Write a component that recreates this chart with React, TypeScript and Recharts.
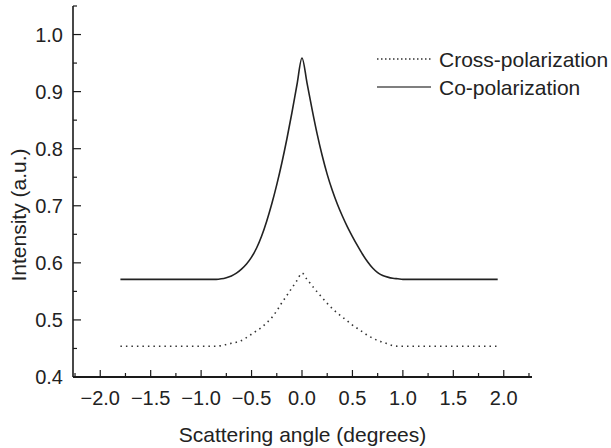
import React from 'react';
import { LineChart, Line, XAxis, YAxis, Legend, Label } from 'recharts';

const angles = [-1.8, -1.5, -1.2, -1.0, -0.9, -0.85, -0.8, -0.75, -0.7, -0.65, -0.6, -0.55, -0.5, -0.45, -0.4, -0.35, -0.3, -0.25, -0.2, -0.15, -0.1, -0.05, 0, 0.05, 0.1, 0.15, 0.2, 0.25, 0.3, 0.35, 0.4, 0.45, 0.5, 0.55, 0.6, 0.65, 0.7, 0.75, 0.8, 0.85, 0.9, 0.95, 1.0, 1.2, 1.5, 1.8, 1.94];
const coPolarization = [0.571, 0.571, 0.571, 0.571, 0.571, 0.571, 0.572, 0.574, 0.577, 0.582, 0.589, 0.598, 0.610, 0.626, 0.647, 0.673, 0.703, 0.737, 0.775, 0.817, 0.863, 0.912, 0.959, 0.915, 0.869, 0.826, 0.788, 0.755, 0.727, 0.703, 0.682, 0.663, 0.646, 0.630, 0.615, 0.602, 0.591, 0.583, 0.578, 0.575, 0.573, 0.572, 0.571, 0.571, 0.571, 0.571, 0.571];
const crossPolarization = [0.454, 0.454, 0.454, 0.454, 0.454, 0.454, 0.455, 0.457, 0.459, 0.461, 0.464, 0.469, 0.475, 0.481, 0.487, 0.495, 0.504, 0.516, 0.530, 0.543, 0.556, 0.569, 0.582, 0.571, 0.560, 0.549, 0.539, 0.529, 0.520, 0.512, 0.505, 0.498, 0.491, 0.485, 0.479, 0.473, 0.468, 0.464, 0.461, 0.458, 0.455, 0.454, 0.454, 0.454, 0.454, 0.454, 0.454];

const xMajorTicks = [-2, -1.5, -1, -0.5, 0, 0.5, 1, 1.5, 2];
const xMinorTicks = [-2.25, -1.75, -1.25, -0.75, -0.25, 0.25, 0.75, 1.25, 1.75, 2.25];
const yMajorTicks = [0.4, 0.5, 0.6, 0.7, 0.8, 0.9, 1.0];
const yMinorTicks = [0.45, 0.55, 0.65, 0.75, 0.85, 0.95, 1.05];

const seriesNames = ['Cross-polarization', 'Co-polarization'];
const xTitle = 'Scattering angle (degrees)';
const yTitle = 'Intensity (a.u.)';

const FONT = '"Liberation Sans", Arial, Helvetica, sans-serif';
const TEXT = '#222';
const INK = '#1a1a1a';

const data = angles.map((a, i) => ({ angle: a, co: coPolarization[i], cross: crossPolarization[i] }));

const fmt = (v: number) => (v < 0 ? '\u2212' + Math.abs(v).toFixed(1) : v.toFixed(1));
const isMajor = (list: number[], v: number) => list.some((t) => Math.abs(t - v) < 1e-6);

const XTick = (props: any) => {
  const { x, y, payload } = props;
  const major = isMajor(xMajorTicks, payload.value);
  return (
    <g>
      <line x1={x} y1={y} x2={x} y2={y - (major ? 7 : 4)} stroke={INK} strokeWidth={1.2} />
      {major && (
        <text x={x} y={y + 28} textAnchor="middle" fontSize={20} fontFamily={FONT} fill={TEXT}>
          {fmt(payload.value)}
        </text>
      )}
    </g>
  );
};

const YTick = (props: any) => {
  const { x, y, payload } = props;
  const major = isMajor(yMajorTicks, payload.value);
  return (
    <g>
      <line x1={x} y1={y} x2={x + (major ? 8 : 4)} y2={y} stroke={INK} strokeWidth={1.2} />
      {major && (
        <text x={x - 10} y={y + 7} textAnchor="end" fontSize={20} fontFamily={FONT} fill={TEXT}>
          {fmt(payload.value)}
        </text>
      )}
    </g>
  );
};

const legendStyles = [
  { stroke: '#333', dash: '1.5 2.5', width: 1.4 },
  { stroke: '#555', dash: undefined, width: 1.6 },
];

const LegendContent = () => (
  <svg width={241} height={60}>
    {seriesNames.map((name, i) => {
      const cy = 19 + i * 28;
      const s = legendStyles[i];
      return (
        <g key={name}>
          <line x1={7} y1={cy} x2={61} y2={cy} stroke={s.stroke} strokeWidth={s.width} strokeDasharray={s.dash} />
          <text x={69} y={cy + 7.5} fontSize={21} fontFamily={FONT} fill={TEXT}>
            {name}
          </text>
        </g>
      );
    })}
  </svg>
);

export default function App() {
  return (
    <div style={{ position: 'absolute', left: 0, top: 0, width: 611, height: 448, background: '#fff' }}>
      <LineChart width={611} height={448} data={data} margin={{ top: 6, right: 79, bottom: 0, left: 0 }}>
        <XAxis
          dataKey="angle"
          type="number"
          domain={[-2.27, 2.28]}
          allowDataOverflow
          ticks={[...xMajorTicks, ...xMinorTicks].sort((a, b) => a - b)}
          interval={0}
          height={71}
          tickSize={0}
          tickMargin={0}
          tickLine={false}
          tick={<XTick />}
          axisLine={{ stroke: INK, strokeWidth: 2 }}
        >
          <Label
            value={xTitle}
            position="insideBottom"
            offset={6}
            style={{ fontSize: 21, fontFamily: FONT, fill: TEXT }}
          />
        </XAxis>
        <YAxis
          type="number"
          domain={[0.4, 1.05]}
          allowDataOverflow
          ticks={[...yMajorTicks, ...yMinorTicks].sort((a, b) => a - b)}
          interval={0}
          width={73}
          tickSize={0}
          tickMargin={0}
          tickLine={false}
          tick={<YTick />}
          axisLine={{ stroke: INK, strokeWidth: 1.6 }}
        >
          <Label
            content={() => (
              <text
                x={18}
                y={215}
                transform="rotate(-90, 18, 215)"
                textAnchor="middle"
                dominantBaseline="central"
                fontSize={21}
                fontFamily={FONT}
                fill={TEXT}
              >
                {yTitle}
              </text>
            )}
          />
        </YAxis>
        <Line
          dataKey="cross"
          name={seriesNames[0]}
          type="monotone"
          stroke="#333"
          strokeWidth={1.6}
          strokeDasharray="1.5 4"
          dot={false}
          isAnimationActive={false}
        />
        <Line
          dataKey="co"
          name={seriesNames[1]}
          type="monotone"
          stroke="#222"
          strokeWidth={1.6}
          dot={false}
          isAnimationActive={false}
        />
        <Legend
          layout="vertical"
          verticalAlign="middle"
          align="center"
          content={<LegendContent />}
          wrapperStyle={{ position: 'absolute', left: 370, top: 40, width: 241, height: 60 }}
        />
      </LineChart>
    </div>
  );
}
